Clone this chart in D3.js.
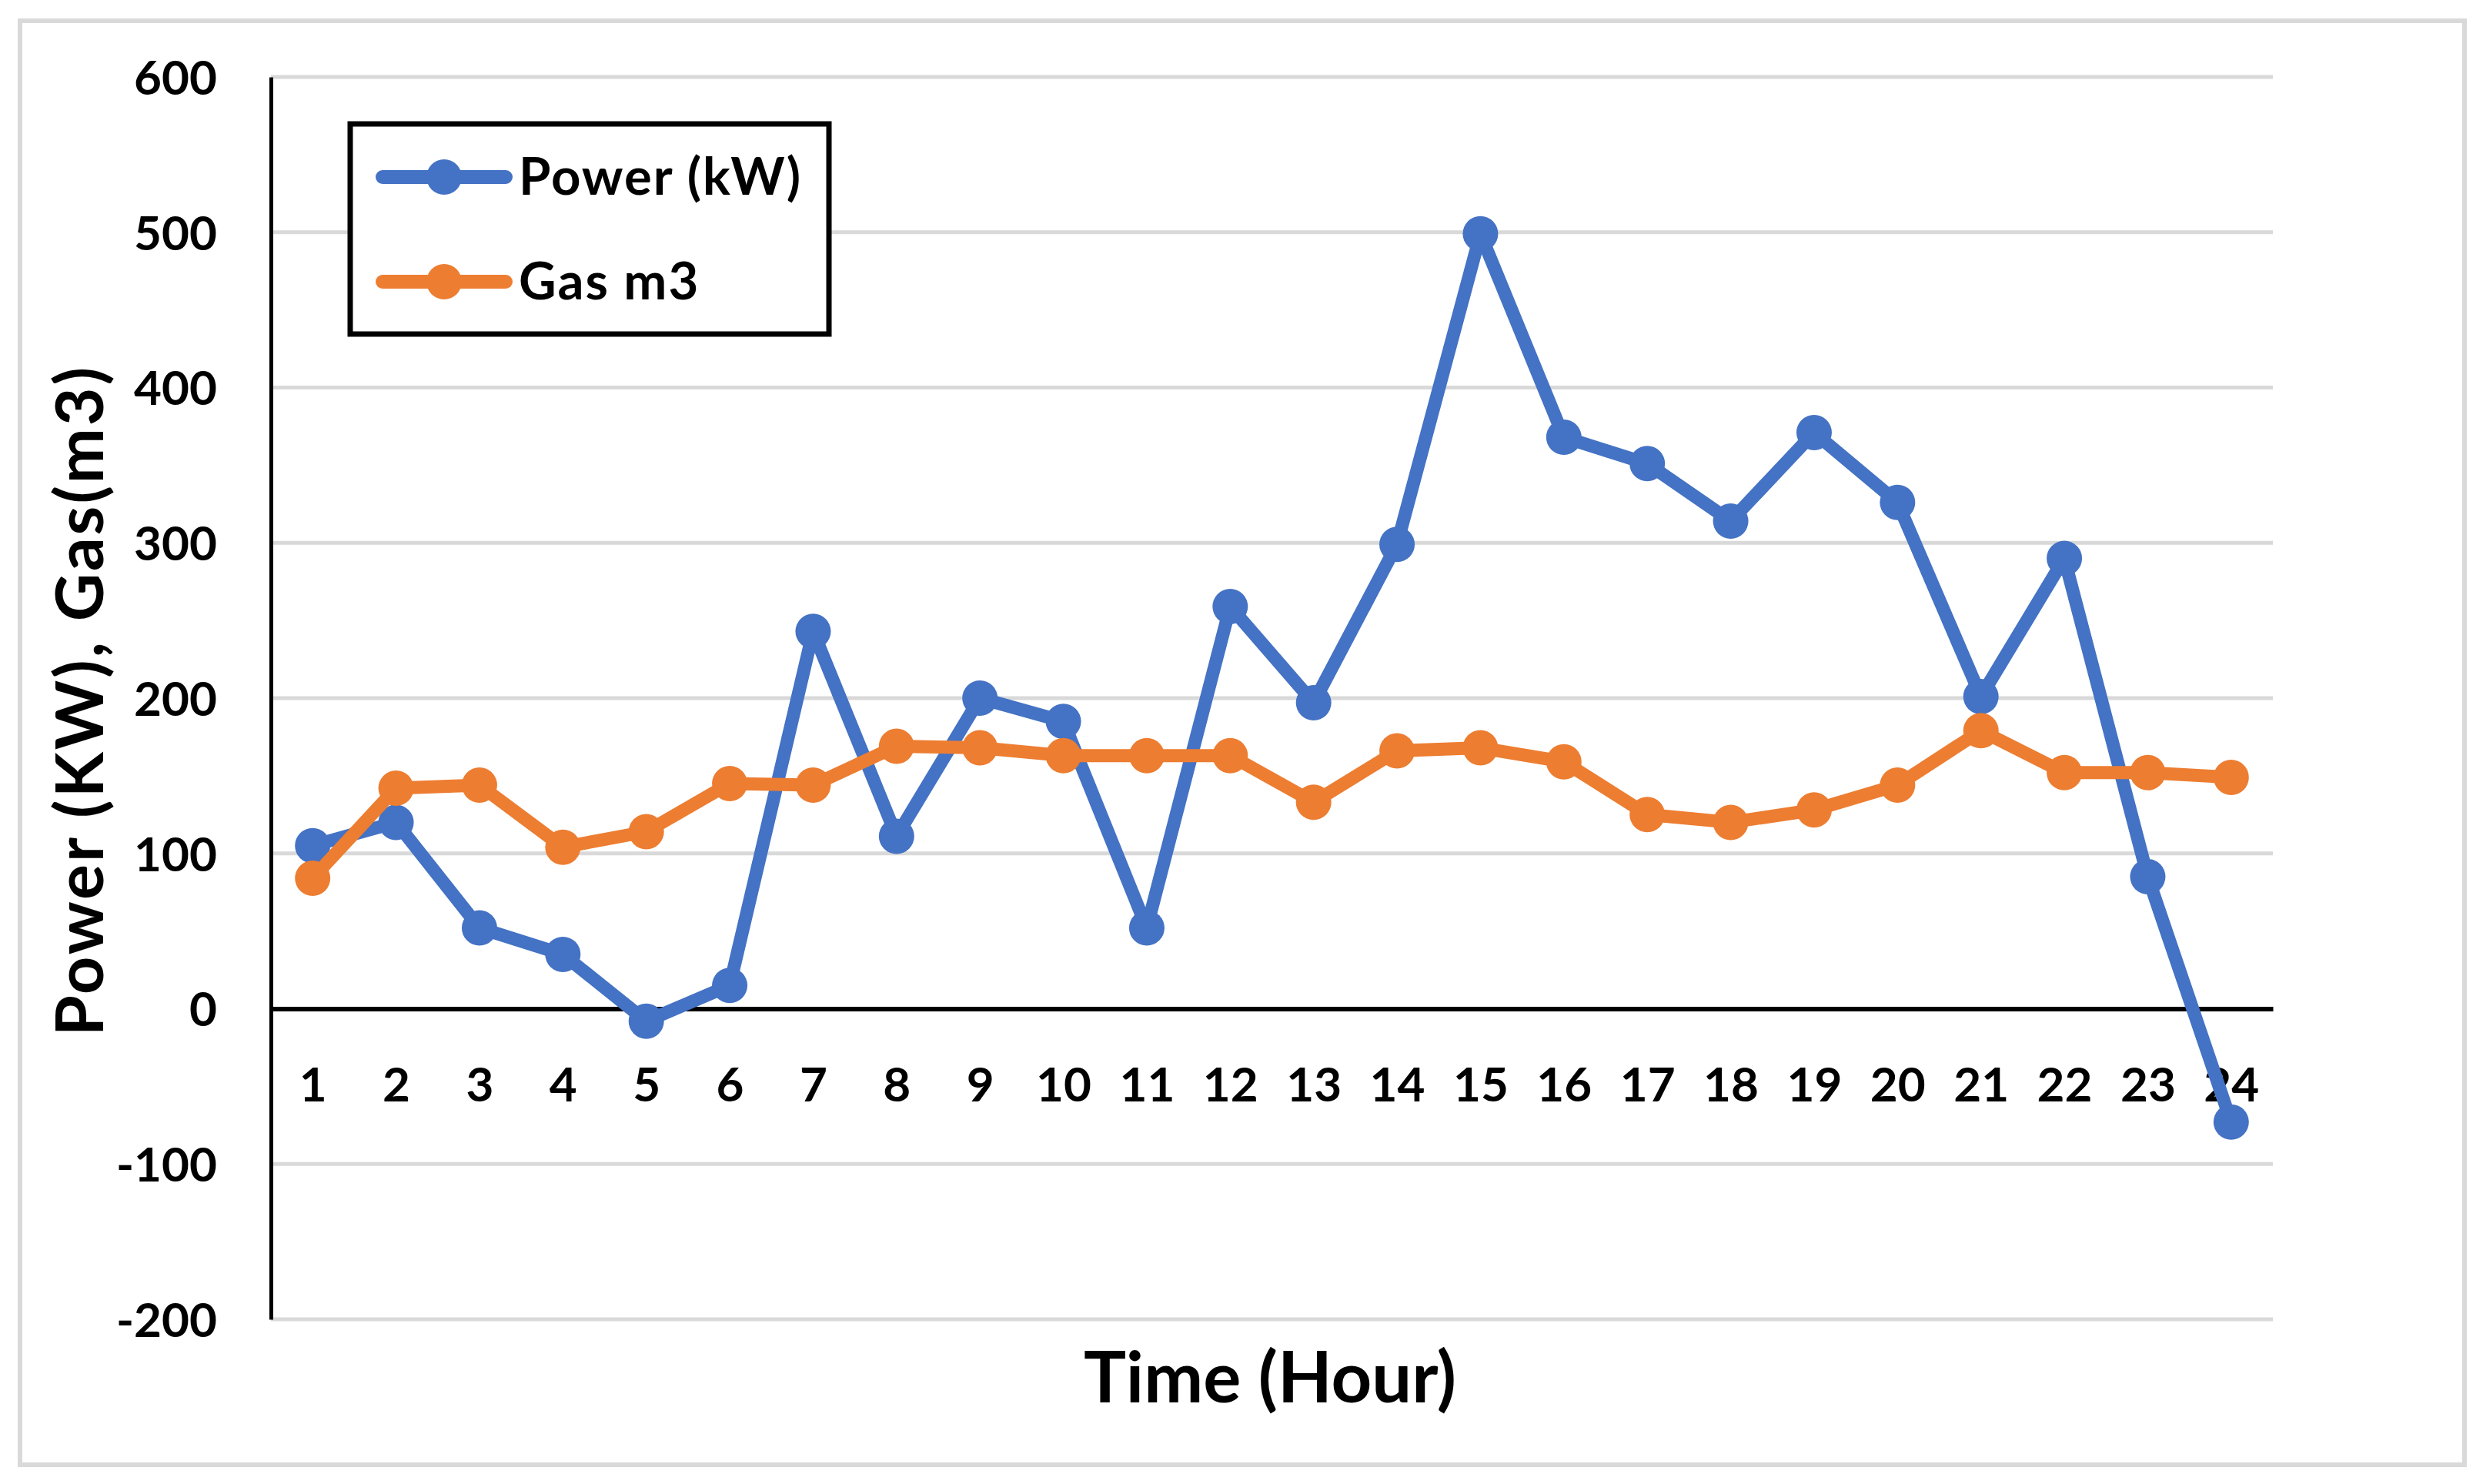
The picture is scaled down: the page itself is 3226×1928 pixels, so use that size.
<!DOCTYPE html>
<html>
<head>
<meta charset="utf-8">
<script src="https://cdn.jsdelivr.net/npm/d3@7"></script>
<style>
  body { margin: 0; background: #fff; }
  text { font-family: Lato, "Open Sans", sans-serif; font-weight: 700; fill: #000; }
</style>
</head>
<body>
<script>
(function() {

    const width = 3226;
    const height = 1928;

    // data
    const hours = [1, 2, 3, 4, 5, 6, 7, 8, 9, 10, 11, 12, 13, 14, 15, 16, 17, 18, 19, 20, 21, 22, 23, 24];
    const power = [105, 120, 52, 35, -8, 15, 243, 111, 200, 185, 52, 259, 197, 299, 499, 368, 351, 314, 371, 326, 201, 290, 85, -73];
    const gas = [84, 142, 144, 104, 114, 145, 144, 169, 168, 163, 163, 163, 133, 166, 168, 159, 125, 120, 128, 144, 179, 152, 152, 149];
    const yTicks = [-200, -100, 0, 100, 200, 300, 400, 500, 600];
    const seriesNames = ["Power (kW)", "Gas m3"];
    const seriesColors = ["#4472C4", "#ED7D31"];

    const plot = { left: 352, right: 2953, top: 100, bottom: 1714 };

    let svg = d3.select("body").append("svg")
        .attr("width", width)
        .attr("height", height);

    // outer chart border
    svg.append("rect")
        .attr("x", 26).attr("y", 27)
        .attr("width", 3176).attr("height", 1876)
        .attr("fill", "#fff")
        .attr("stroke", "#d9d9d9")
        .attr("stroke-width", 6);

    let x = d3.scalePoint()
        .domain(hours)
        .range([plot.left, plot.right])
        .padding(0.5);

    let y = d3.scaleLinear()
        .domain([-200, 600])
        .range([plot.bottom, plot.top]);

    // gridlines
    svg.append("g")
        .selectAll("line")
        .data(yTicks.filter(d => d !== 0))
        .enter()
        .append("line")
        .attr("x1", plot.left)
        .attr("x2", plot.right)
        .attr("y1", d => y(d))
        .attr("y2", d => y(d))
        .attr("stroke", "#d9d9d9")
        .attr("stroke-width", 5);

    // y axis (plain hyphen for negatives, like the original)
    let yAxis = svg.append("g")
        .attr("transform", "translate(" + plot.left + ",0)")
        .call(d3.axisLeft(y).tickValues(yTicks).tickFormat(d => String(d)).tickSize(0).tickPadding(70));
    yAxis.select(".domain").attr("stroke", "#000").attr("stroke-width", 5);
    yAxis.selectAll("text")
        .style("font-size", "62px")
        .style("font-family", "Lato, sans-serif")
        .style("font-weight", 700)
        .attr("dy", "0.36em");

    // zero line with hour labels under it
    let xAxis = svg.append("g")
        .attr("transform", "translate(0," + y(0) + ")")
        .call(d3.axisBottom(x).tickSize(0).tickPadding(108));
    xAxis.select(".domain").attr("stroke", "#000").attr("stroke-width", 6);
    xAxis.selectAll("text")
        .style("font-size", "62px")
        .style("font-family", "Lato, sans-serif")
        .style("font-weight", 700)
        .attr("dy", "0.2em");

    // lines + markers
    let line = d3.line()
        .x((d, i) => x(hours[i]))
        .y(d => y(d));

    [power, gas].forEach(function(vals, k) {
        svg.append("path")
            .datum(vals)
            .attr("d", line)
            .attr("fill", "none")
            .attr("stroke", seriesColors[k])
            .attr("stroke-width", 17)
            .attr("stroke-linejoin", "round");

        svg.append("g")
            .selectAll("circle")
            .data(vals)
            .enter()
            .append("circle")
            .attr("cx", (d, i) => x(hours[i]))
            .attr("cy", d => y(d))
            .attr("r", 23)
            .attr("fill", seriesColors[k]);
    });

    // axis titles
    svg.append("text")
        .attr("x", 1650)
        .attr("y", 1822)
        .attr("text-anchor", "middle")
        .style("font-size", "92px")
        .text("Time (Hour)");

    svg.append("text")
        .attr("transform", "translate(134,910) rotate(-90)")
        .attr("text-anchor", "middle")
        .style("font-size", "86px")
        .style("letter-spacing", "3px")
        .text("Power (KW), Gas(m3)");

    // legend
    svg.append("rect")
        .attr("x", 455).attr("y", 161)
        .attr("width", 622).attr("height", 273)
        .attr("fill", "#fff")
        .attr("stroke", "#000")
        .attr("stroke-width", 7);

    let legend = svg.selectAll(".legend")
        .data(seriesNames)
        .enter()
        .append("g")
        .attr("class", "legend")
        .attr("transform", (d, i) => "translate(0," + (230 + i * 136) + ")");

    legend.append("line")
        .attr("x1", 497).attr("x2", 657)
        .attr("stroke", (d, i) => seriesColors[i])
        .attr("stroke-width", 18)
        .attr("stroke-linecap", "round");

    legend.append("circle")
        .attr("cx", 577)
        .attr("r", 23)
        .attr("fill", (d, i) => seriesColors[i]);

    legend.append("text")
        .attr("x", 674)
        .attr("y", 23)
        .style("font-size", "67px")
        .style("letter-spacing", "2px")
        .text(d => d);

})();
</script>
</body>
</html>
